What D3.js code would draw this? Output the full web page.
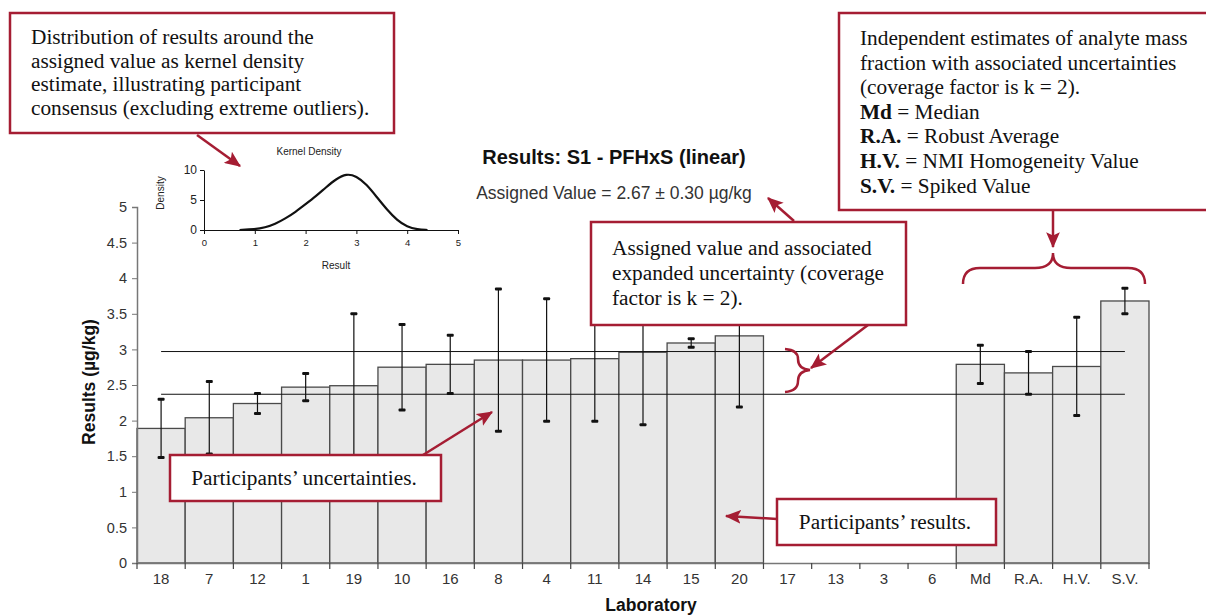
<!DOCTYPE html>
<html>
<head>
<meta charset="utf-8">
<script src="https://cdn.jsdelivr.net/npm/d3@7"></script>
<style>
  body { margin: 0; background: #fff; }
  svg { display: block; }
</style>
</head>
<body>
<div id="chart"></div>
<script>
// laboratories (sorted by result) followed by the consensus estimates
let labels = ["18", "7", "12", "1", "19", "10", "16", "8", "4", "11", "14", "15", "20", "17", "13", "3", "6", "Md", "R.A.", "H.V.", "S.V."];
let results = [1.89, 2.04, 2.24, 2.47, 2.49, 2.75, 2.79, 2.85, 2.85, 2.87, 2.96, 3.09, 3.19, null, null, null, null, 2.79, 2.67, 2.76, 3.68];
let uncert = [0.41, 0.51, 0.14, 0.19, 1.01, 0.60, 0.41, 1.00, 0.86, 0.88, 1.02, 0.06, 1.00, null, null, null, null, 0.27, 0.30, 0.69, 0.18];
let assigned = 2.67;
let assignedU = 0.30;
let yTicks = [0, 0.5, 1, 1.5, 2, 2.5, 3, 3.5, 4, 4.5, 5];

// kernel density curve
let kdX = [0.7, 1.0, 1.2, 1.4, 1.6, 1.8, 2.0, 2.2, 2.4, 2.6, 2.8, 3.0, 3.2, 3.4, 3.6, 3.8, 4.0, 4.2, 4.4];
let kdY = [0.0, 0.1, 0.4, 1.0, 1.9, 3.0, 4.3, 5.6, 7.1, 8.5, 9.4, 9.0, 7.6, 5.5, 3.4, 1.6, 0.5, 0.1, 0.0];

// annotation text
let note1 = ["Distribution of results around the", "assigned value as kernel density", "estimate, illustrating participant", "consensus (excluding extreme outliers)."];
let note2 = ["Independent estimates of analyte mass", "fraction with associated uncertainties", "(coverage factor is k = 2)."];
let note2Keys = [["Md", " = Median"], ["R.A.", " = Robust Average"], ["H.V.", " = NMI Homogeneity Value"], ["S.V.", " = Spiked Value"]];
let note3 = ["Assigned value and associated", "expanded uncertainty (coverage", "factor is k = 2)."];
let note4 = "Participants\u2019 uncertainties.";
let note5 = "Participants\u2019 results.";

function init() {
    let width = 1206;
    let height = 616;
    let red = "#a51d33";
    let sans = "'Liberation Sans', Arial, sans-serif";
    let narrow = "'Liberation Sans Narrow', 'Arial Narrow', 'Liberation Sans', sans-serif";
    let serif = "'Liberation Serif', 'Times New Roman', serif";
    let fs = 21.3;

    let svg = d3.select("#chart")
        .append("svg")
        .attr("width", width)
        .attr("height", height);

    svg.append("defs").append("marker")
        .attr("id", "arr")
        .attr("markerUnits", "userSpaceOnUse")
        .attr("viewBox", "0 0 14 12")
        .attr("refX", 13).attr("refY", 6)
        .attr("markerWidth", 16).attr("markerHeight", 14)
        .attr("orient", "auto")
        .append("path")
        .attr("d", "M0,0 L14,6 L0,12 L3,6 Z")
        .attr("fill", red);

    let data = labels.map((d, i) => ({ lab: d, v: results[i], u: uncert[i] }));

    let x = d3.scaleBand().domain(labels).range([137, 1149]).padding(0);
    let y = d3.scaleLinear().domain([0, 5]).range([563, 207]);

    // bars
    svg.append("g").selectAll("rect")
        .data(data.filter(d => d.v != null))
        .enter().append("rect")
        .attr("x", d => x(d.lab))
        .attr("y", d => y(d.v))
        .attr("width", x.bandwidth())
        .attr("height", d => y(0) - y(d.v))
        .attr("fill", "#e8e8e8")
        .attr("stroke", "#4a4a4a")
        .attr("stroke-width", 1.3);

    // assigned value band
    let first = x(labels[0]) + x.bandwidth() / 2;
    let last = x(labels[labels.length - 1]) + x.bandwidth() / 2;
    [assigned + assignedU, assigned - assignedU].forEach(function (v) {
        svg.append("line")
            .attr("x1", first).attr("x2", last)
            .attr("y1", y(v)).attr("y2", y(v))
            .attr("stroke", "#111").attr("stroke-width", 1);
    });

    // error bars
    let eb = svg.append("g").selectAll("g")
        .data(data.filter(d => d.v != null))
        .enter().append("g")
        .attr("transform", d => "translate(" + (x(d.lab) + x.bandwidth() / 2) + ",0)");
    eb.append("line")
        .attr("y1", d => y(d.v + d.u)).attr("y2", d => y(d.v - d.u))
        .attr("stroke", "#111").attr("stroke-width", 1.2);
    eb.selectAll("rect")
        .data(d => [d.v + d.u, d.v - d.u])
        .enter().append("rect")
        .attr("x", -3.5).attr("y", v => y(v) - 1.5)
        .attr("width", 7).attr("height", 3)
        .attr("rx", 1)
        .attr("fill", "#111");

    // y axis
    let yAxis = svg.append("g")
        .attr("transform", "translate(137,0)")
        .call(d3.axisLeft(y).tickValues(yTicks).tickSize(5).tickPadding(5).tickFormat(d3.format("")));
    yAxis.select(".domain").attr("stroke", "#777").attr("stroke-width", 1.5);
    yAxis.selectAll(".tick line").attr("stroke", "#777");
    yAxis.selectAll("text").attr("font-family", sans).attr("font-size", 14.5).attr("fill", "#333");

    // x axis with ticks on category boundaries
    let xAxis = svg.append("g")
        .attr("transform", "translate(0,563)")
        .call(d3.axisBottom(x).tickSize(0).tickPadding(10).tickSizeOuter(0));
    xAxis.select(".domain").attr("stroke", "#777").attr("stroke-width", 1.5);
    xAxis.selectAll("text").attr("font-family", narrow).attr("font-size", 15).attr("fill", "#333");
    let bounds = labels.map(d => x(d)).concat([x.range()[1]]);
    svg.append("g").selectAll("line")
        .data(bounds)
        .enter().append("line")
        .attr("x1", d => d).attr("x2", d => d)
        .attr("y1", 563).attr("y2", 569)
        .attr("stroke", "#444").attr("stroke-width", 1.2);

    svg.append("text")
        .attr("x", 651).attr("y", 611)
        .attr("text-anchor", "middle")
        .attr("font-family", sans).attr("font-size", 17.5).attr("font-weight", "bold")
        .attr("fill", "#111")
        .text("Laboratory");
    svg.append("text")
        .attr("transform", "translate(95,382) rotate(-90)")
        .attr("text-anchor", "middle")
        .attr("font-family", sans).attr("font-size", 17.5).attr("font-weight", "bold")
        .attr("fill", "#111")
        .text("Results (\u00b5g/kg)");

    // titles
    svg.append("text")
        .attr("x", 614).attr("y", 164)
        .attr("text-anchor", "middle")
        .attr("font-family", sans).attr("font-size", 20).attr("font-weight", "bold")
        .attr("fill", "#111")
        .text("Results: S1 - PFHxS (linear)");
    svg.append("text")
        .attr("x", 614).attr("y", 199)
        .attr("text-anchor", "middle")
        .attr("font-family", sans).attr("font-size", 17.5)
        .attr("fill", "#333")
        .text("Assigned Value = 2.67 \u00b1 0.30 \u00b5g/kg");

    // kernel density inset
    let kx = d3.scaleLinear().domain([0, 5]).range([204, 458]);
    let ky = d3.scaleLinear().domain([0, 10]).range([230, 170]);
    let kxa = svg.append("g").attr("transform", "translate(0,230)")
        .call(d3.axisBottom(kx).ticks(5).tickSize(4).tickPadding(5).tickSizeOuter(0));
    let kya = svg.append("g").attr("transform", "translate(204,0)")
        .call(d3.axisLeft(ky).tickValues([0, 5, 10]).tickSize(4).tickPadding(3).tickSizeOuter(0));
    [kxa, kya].forEach(function (a) {
        a.select(".domain").attr("stroke", "#111");
        a.selectAll(".tick line").attr("stroke", "#111");
    });
    kxa.selectAll("text").attr("font-family", sans).attr("font-size", 9.5).attr("fill", "#222");
    kya.selectAll("text").attr("font-family", sans).attr("font-size", 12).attr("fill", "#222");
    svg.append("path")
        .datum(kdX.map((d, i) => [d, kdY[i]]))
        .attr("fill", "none")
        .attr("stroke", "#111")
        .attr("stroke-width", 2.2)
        .attr("d", d3.line().curve(d3.curveBasis)
            .x(d => kx(d[0]))
            .y(d => ky(d[1])));
    svg.append("text")
        .attr("x", 309).attr("y", 155)
        .attr("text-anchor", "middle")
        .attr("font-family", sans).attr("font-size", 10).attr("fill", "#222")
        .text("Kernel Density");
    svg.append("text")
        .attr("x", 336).attr("y", 269)
        .attr("text-anchor", "middle")
        .attr("font-family", sans).attr("font-size", 10).attr("fill", "#222")
        .text("Result");
    svg.append("text")
        .attr("transform", "translate(164,193) rotate(-90)")
        .attr("text-anchor", "middle")
        .attr("font-family", sans).attr("font-size", 10).attr("fill", "#222")
        .text("Density");

    // annotations
    let ann = svg.append("g");
    function box(x0, y0, w, h) {
        ann.append("rect")
            .attr("x", x0).attr("y", y0).attr("width", w).attr("height", h)
            .attr("fill", "#fff").attr("stroke", red).attr("stroke-width", 2.5);
    }
    function lines(arr, x0, y0, dy) {
        arr.forEach(function (t, i) {
            ann.append("text")
                .attr("x", x0).attr("y", y0 + i * dy)
                .attr("font-family", serif).attr("font-size", fs).attr("fill", "#111")
                .text(t);
        });
    }
    function arrow(x1, y1, x2, y2) {
        ann.append("line")
            .attr("x1", x1).attr("y1", y1).attr("x2", x2).attr("y2", y2)
            .attr("stroke", red).attr("stroke-width", 2.5)
            .attr("marker-end", "url(#arr)");
    }

    box(10, 13, 384, 120);
    lines(note1, 31, 44, 23.7);
    arrow(197, 135, 240, 166);

    box(839, 13, 380, 197);
    lines(note2, 860, 45, 24.6);
    note2Keys.forEach(function (k, i) {
        let t = ann.append("text")
            .attr("x", 860).attr("y", 45 + (i + 3) * 24.6)
            .attr("font-family", serif).attr("font-size", fs).attr("fill", "#111");
        t.append("tspan").attr("font-weight", "bold").text(k[0]);
        t.append("tspan").text(k[1]);
    });
    arrow(1053, 210, 1053, 247);
    ann.append("path")
        .attr("d", "M963,284 Q963,268 980,268 L1035,268 Q1053,268 1053,253 Q1053,268 1071,268 L1128,268 Q1145,268 1145,284")
        .attr("fill", "none").attr("stroke", red).attr("stroke-width", 2.5);

    box(591, 222, 315, 103);
    lines(note3, 612, 255, 25);
    arrow(794, 221, 768, 198);
    arrow(868, 325, 811, 368);
    ann.append("path")
        .attr("d", "M785,349 Q798,350 798,359 Q798,369 810,370 Q798,371 798,381 Q798,391 785,392")
        .attr("fill", "none").attr("stroke", red).attr("stroke-width", 2.5);

    box(170, 455, 271, 46);
    ann.append("text")
        .attr("x", 304).attr("y", 485)
        .attr("text-anchor", "middle")
        .attr("font-family", serif).attr("font-size", fs).attr("fill", "#111")
        .text(note4);
    arrow(423, 455, 492, 412);

    box(777, 499, 219, 46);
    ann.append("text")
        .attr("x", 885).attr("y", 529)
        .attr("text-anchor", "middle")
        .attr("font-family", serif).attr("font-size", fs).attr("fill", "#111")
        .text(note5);
    arrow(777, 519, 726, 516);
}

window.addEventListener('load', init);
</script>
</body>
</html>
